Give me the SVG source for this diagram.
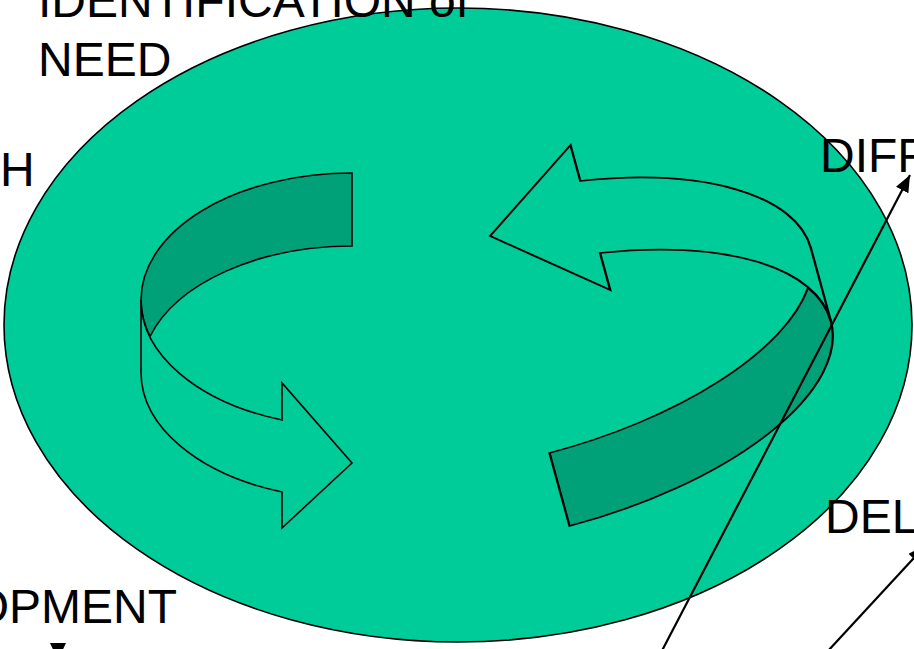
<svg xmlns="http://www.w3.org/2000/svg" width="914" height="649" viewBox="0 0 914 649">
<defs>
<style>
.lbl{font-family:"Liberation Sans",Arial,sans-serif;font-size:48px;fill:#000}
.light{fill:#00CC99;stroke:#000;stroke-width:1.6;vector-effect:non-scaling-stroke;stroke-linejoin:miter}
.dark{fill:#00A078;stroke:#000;stroke-width:1.6;vector-effect:non-scaling-stroke}
.conn{stroke:#000;stroke-width:2.2;fill:none}
</style>
<marker id="ah" markerUnits="userSpaceOnUse" markerWidth="17" markerHeight="14" refX="17" refY="7" orient="auto" viewBox="0 0 17 14">
<path d="M0,0 L17,7 L0,14 Z" fill="#000"/>
</marker>
<path id="darkband" d="M352,173 A211,127 0 0 0 141,300 A211,127 0 0 0 150,336.5 A211,127 0 0 1 352,246 Z"/>
<path id="lightband" d="M141,300 A211,127 0 0 0 282,420 L282,383 L352,463 L282,528 L282,492 A211,127 0 0 1 141,373 Z"/>
</defs>
<rect width="914" height="649" fill="#fff"/>
<g id="cycle">
<ellipse cx="458" cy="325" rx="454" ry="317" fill="#00CC99" stroke="#000" stroke-width="1.6"/>
</g>
<g id="arrow-left">
<use href="#darkband" class="dark"/>
<use href="#lightband" class="light"/>
</g>
<g id="arrow-right" transform="matrix(-1.403,0.371,-0.274,-1,1110.8,568.4)">
<use href="#darkband" class="dark"/>
<use href="#lightband" class="light"/>
</g>
<g id="connectors">
<line class="conn" x1="654" y1="666" x2="910" y2="175" marker-end="url(#ah)"/>
<line class="conn" x1="815" y1="665" x2="925" y2="546" marker-end="url(#ah)"/>
<polygon points="50,643 66,643 58,660" fill="#000"/>
</g>
<g id="labels">
<text class="lbl" x="38" y="17">IDENTIFICATION of</text>
<text class="lbl" x="38" y="76">NEED</text>
<text class="lbl" x="0" y="186">H</text>
<text class="lbl" x="820" y="172">DIFF</text>
<text class="lbl" x="825" y="533">DEL</text>
<text class="lbl" x="177" y="623" text-anchor="end">OPMENT</text>
</g>
</svg>
